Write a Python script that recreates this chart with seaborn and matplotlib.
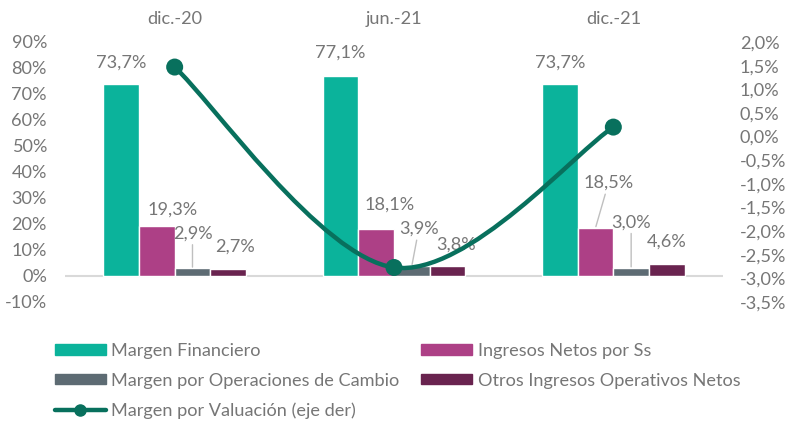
import numpy as np
import pandas as pd
import matplotlib
matplotlib.use('Agg')
import matplotlib.pyplot as plt
import seaborn as sns
from matplotlib.path import Path
from matplotlib.patches import PathPatch, Patch
from matplotlib.lines import Line2D

# --- datos ---
fechas = ['dic.-20', 'jun.-21', 'dic.-21']
series = ['Margen Financiero', 'Ingresos Netos por Ss',
          'Margen por Operaciones de Cambio', 'Otros Ingresos Operativos Netos']
margen_financiero = [73.7, 77.1, 73.7]
ingresos_ss = [19.3, 18.1, 18.5]
operaciones_cambio = [2.9, 3.9, 3.0]
otros_ingresos = [2.7, 3.8, 4.6]
linea_nombre = 'Margen por Valuación (eje der)'
margen_valuacion = [1.47, -2.77, 0.20]

# --- estilo ---
colores = ['#0BB39B', '#AD4086', '#5D6B73', '#69234F']
color_linea = '#08705D'
gris_texto = '#767676'
fs = 13.1

# posicion de etiquetas (px respecto al tope de la barra) y linea guia
etiq_dx = [[0, 0, 0], [16, 13, 13], [0, 7, 0], [7, 9, 0]]
etiq_dy = [[22, 23, 22], [16, 24, 45], [35, 37, 46], [22, 21, 22]]
etiq_guia = [[False, False, False], [False, False, True],
             [True, True, True], [False, False, False]]

sns.set_style('white')
plt.rcParams['font.family'] = ['Lato', 'DejaVu Sans']
plt.rcParams['font.size'] = fs

valores = [margen_financiero, ingresos_ss, operaciones_cambio, otros_ingresos]
df = pd.DataFrame({
    'fecha': [f for _ in series for f in fechas],
    'serie': [s for s in series for _ in fechas],
    'valor': [v for vals in valores for v in vals],
})

fig = plt.figure(figsize=(7.87, 4.28), dpi=100)
ax = fig.add_axes([65 / 787, 1 - 302 / 428, 658 / 787, 260 / 428])

sns.barplot(data=df, x='fecha', y='valor', hue='serie', order=fechas,
            hue_order=series, palette=colores, width=0.65, saturation=1,
            errorbar=None, legend=False, ax=ax)

ax.set_ylim(-10, 90)
ax.set_xlim(-0.5, 2.5)
ax.set_yticks(np.arange(-10, 91, 10))
ax.set_yticklabels([f'{v}%' for v in np.arange(-10, 91, 10)])
ax.xaxis.tick_top()
ax.tick_params(axis='x', length=0, pad=11, colors=gris_texto, labelsize=fs)
ax.tick_params(axis='y', length=0, pad=13, colors=gris_texto, labelsize=fs)
ax.set_xlabel('')
ax.set_ylabel('')
for sp in ax.spines.values():
    sp.set_visible(False)
ax.axhline(0, color='#D9D9D9', lw=1.5, zorder=0)

# etiquetas de datos
for j, cont in enumerate(ax.containers):
    for i, bar in enumerate(cont):
        xc = bar.get_x() + bar.get_width() / 2
        h = bar.get_height()
        kw = {}
        if etiq_guia[j][i]:
            kw['arrowprops'] = dict(arrowstyle='-', color='#BFBFBF', lw=1,
                                    shrinkA=0, shrinkB=1)
        ax.annotate(f'{h:.1f}%'.replace('.', ','), xy=(xc, h),
                    xytext=(etiq_dx[j][i] * 0.72, etiq_dy[j][i] * 0.72),
                    textcoords='offset points', ha='center', va='center',
                    color=gris_texto, fontsize=fs, **kw)

# eje derecho: linea suavizada
ax2 = ax.twinx()
ax2.set_ylim(-3.5, 2.0)
ticks_der = np.round(np.arange(-3.5, 2.01, 0.5), 1)
ax2.set_yticks(ticks_der)
ax2.set_yticklabels([f'{v:.1f}%'.replace('.', ',') for v in ticks_der])
ax2.tick_params(axis='y', length=0, pad=12, colors=gris_texto, labelsize=fs)
for sp in ax2.spines.values():
    sp.set_visible(False)

pts = np.column_stack([np.arange(len(fechas), dtype=float), margen_valuacion])
ext = np.vstack([pts[0], pts, pts[-1]])
verts = [pts[0]]
codes = [Path.MOVETO]
for i in range(len(pts) - 1):
    c1 = pts[i] + (ext[i + 2] - ext[i]) / 6
    c2 = pts[i + 1] - (ext[i + 3] - ext[i + 1]) / 6
    verts += [c1, c2, pts[i + 1]]
    codes += [Path.CURVE4] * 3
ax2.add_patch(PathPatch(Path(verts, codes), facecolor='none',
                        edgecolor=color_linea, lw=3.2, capstyle='round', zorder=3))
sns.scatterplot(x=pts[:, 0], y=margen_valuacion, ax=ax2, s=150,
                color=color_linea, edgecolor='none', zorder=4, legend=False)
ax2.set_xlim(-0.5, 2.5)

# leyenda
h = [Patch(color=c) for c in colores]
hl = Line2D([], [], color=color_linea, lw=3.2, marker='o', markersize=8)
handles = [h[0], h[2], hl, h[1], h[3]]
labels = [series[0], series[2], linea_nombre, series[1], series[3]]
leg = fig.legend(handles, labels, ncol=2, loc='upper left',
                 bbox_to_anchor=(55 / 787, 1 - 343 / 428), frameon=False,
                 fontsize=fs, handlelength=2.8, handleheight=0.5,
                 handletextpad=0.3, columnspacing=1.2, labelspacing=0.75,
                 borderpad=0, borderaxespad=0)
for t in leg.get_texts():
    t.set_color(gris_texto)

fig.savefig('out.png', dpi=100)
